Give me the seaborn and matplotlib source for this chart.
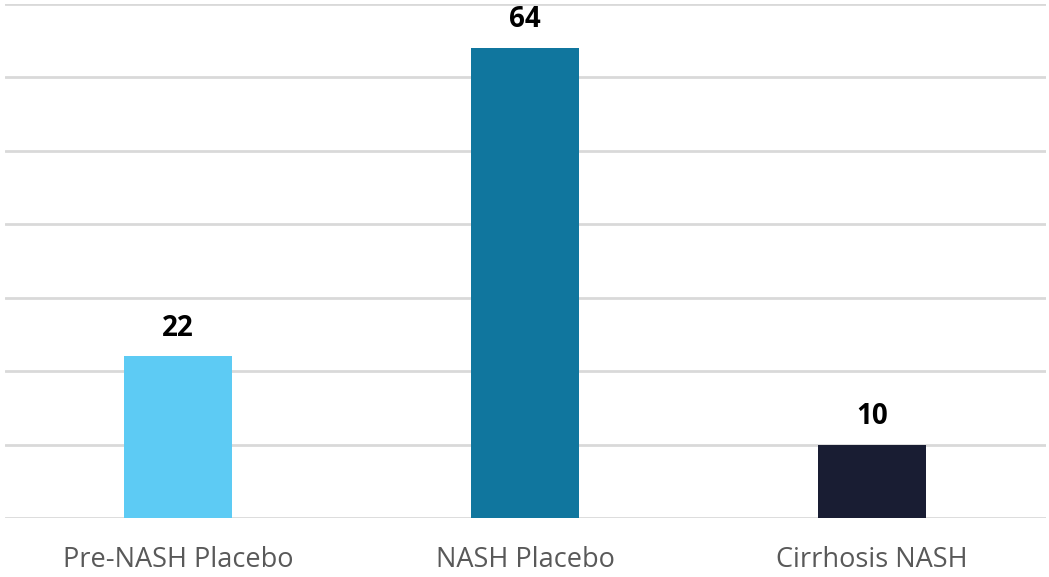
import matplotlib
matplotlib.use("Agg")
import matplotlib.pyplot as plt
import seaborn as sns
import pandas as pd

categories = ["Pre-NASH Placebo", "NASH Placebo", "Cirrhosis NASH"]
values = [22, 64, 10]
colors = ["#5DCBF4", "#10769E", "#191D33"]

sns.set_theme(style="white")
plt.rcParams['font.family'] = ['Open Sans', 'DejaVu Sans']

df = pd.DataFrame({"category": categories, "value": values})

fig = plt.figure(figsize=(10.49, 5.77), dpi=100)
ax = fig.add_axes([4.5/1049, 59/577, 1041/1049, 514/577])
sns.barplot(data=df, x="category", y="value", hue="category", palette=colors,
            width=0.314, legend=False, ax=ax, saturation=1, linewidth=0)
ax.set_ylim(0, 70)
ax.set_yticks(range(0, 71, 10))
ax.yaxis.grid(True, color="#D9D9D9", linewidth=2)
ax.set_axisbelow(True)
for s in ax.spines.values():
    s.set_visible(False)
ax.set_xlabel("")
ax.set_ylabel("")
ax.tick_params(axis="y", left=False, labelleft=False)
ax.tick_params(axis="x", bottom=False, labelsize=19.5, labelcolor="#595959", pad=14)
for c in ax.containers:
    ax.bar_label(c, fmt="%d", padding=10, fontsize=20, fontweight="bold", color="black")
fig.savefig("out.png", dpi=100)
